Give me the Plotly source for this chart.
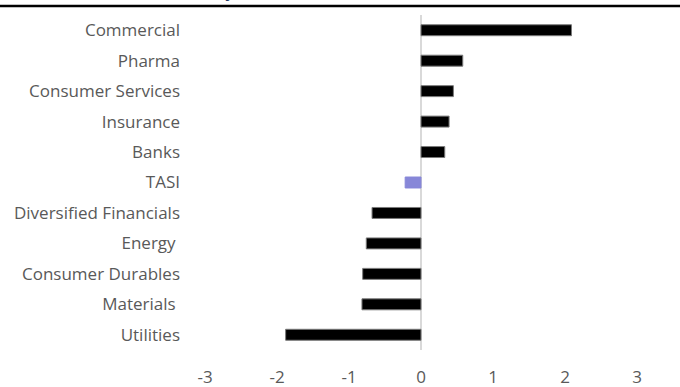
import plotly.graph_objects as go

categories = ["Commercial", "Pharma", "Consumer Services", "Insurance", "Banks", "TASI",
              "Diversified Financials", "Energy ", "Consumer Durables", "Materials ", "Utilities"]
values = [2.09, 0.58, 0.45, 0.39, 0.33, -0.22, -0.68, -0.76, -0.81, -0.82, -1.88]
highlight = "TASI"
tick_vals = [-3, -2, -1, 0, 1, 2, 3]
tick_text = ["-3", "-2", "-1", "0", "1", "2", "3"]

W, H = 680, 387
ml, mr, mt, mb = 205, 43, 15, 37
pw, ph = W - ml - mr, H - mt - mb

colors = ["#8787D8" if c == highlight else "#000000" for c in categories]
line_colors = ["#8787D8" if c == highlight else "#7a7a7a" for c in categories]

fig = go.Figure(go.Bar(
    x=values, y=categories, orientation="h",
    marker=dict(color=colors, line=dict(color=line_colors, width=1)),
))

fig.update_layout(
    width=W, height=H,
    margin=dict(l=ml, r=mr, t=mt, b=mb, pad=0),
    paper_bgcolor="white", plot_bgcolor="white",
    bargap=0.64,
    showlegend=False,
    font=dict(family="Open Sans", size=17, color="#595959"),
    xaxis=dict(range=[-3, 3], tickvals=tick_vals, ticktext=tick_text, showgrid=False,
               zeroline=True, zerolinecolor="#d9d9d9", zerolinewidth=2,
               showline=False, ticks="", ticklabelstandoff=15, automargin=False,
               tickfont=dict(size=17, color="#595959")),
    yaxis=dict(categoryorder="array", categoryarray=categories[::-1],
               autorange=False, range=[-0.5, len(categories) - 0.5],
               showgrid=False, zeroline=False, showline=False, ticks="", automargin=False,
               ticklabelstandoff=24, tickfont=dict(size=17, color="#595959")),
    shapes=[dict(type="line", xref="paper", yref="paper",
                 x0=(0 - ml) / pw, x1=(W - ml) / pw,
                 y0=1 + (mt - 6) / ph, y1=1 + (mt - 6) / ph,
                 line=dict(color="black", width=2.5))],
    annotations=[dict(text="<b>Weekly Sector Performance (%)</b>", xref="paper", yref="paper",
                      x=(428 - ml) / pw, y=1, xanchor="right", yanchor="bottom",
                      yshift=11, showarrow=False,
                      font=dict(family="Open Sans", size=16, color="#1F3864"))],
)

fig.write_html("out.html")
